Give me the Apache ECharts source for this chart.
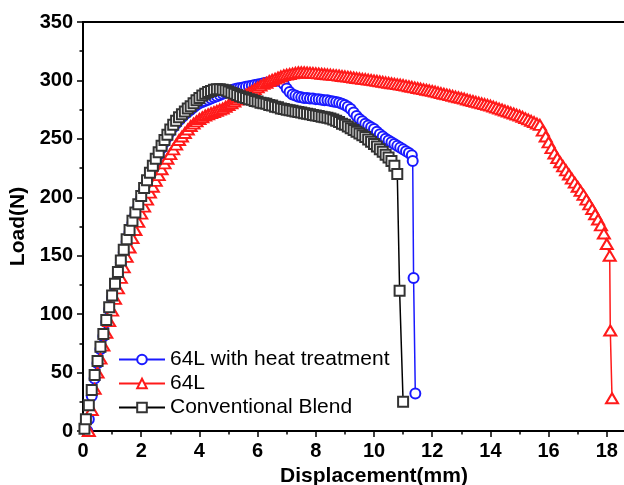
<!DOCTYPE html>
<html><head><meta charset="utf-8">
<script src="https://cdn.jsdelivr.net/npm/echarts@6/dist/echarts.min.js"></script>
<style>html,body{margin:0;padding:0;background:#fff}#c{width:624px;height:485px}</style>
</head><body><div id="c"></div>
<script>
const seriesNames = ['64L with heat treatment', '64L', 'Conventional Blend'];
const xAxisName = 'Displacement(mm)';
const yAxisName = 'Load(N)';

// 64L with heat treatment (blue circles)
const blueX = [0.15,0.2,0.3,0.4,0.5,0.6,0.7,0.8,0.9,
 1.0,1.1,1.2,1.3,1.4,1.5,1.6,1.7,1.8,1.9,
 2.0,2.1,2.2,2.3,2.4,2.5,2.6,2.7,2.8,2.9,
 3.0,3.1,3.2,3.3,3.4,3.5,3.6,3.7,3.8,3.9,
 4.0,4.1,4.2,4.3,4.4,4.5,4.6,4.7,4.8,4.9,
 5.0,5.1,5.2,5.3,5.4,5.5,5.6,5.7,5.8,5.9,
 6.0,6.1,6.2,6.3,6.4,6.5,6.6,6.7,6.8,6.9,
 7.0,7.1,7.2,7.3,7.4,7.5,7.6,7.7,7.8,7.9,
 8.0,8.1,8.2,8.3,8.4,8.5,8.6,8.7,8.8,8.9,
 9.0,9.1,9.2,9.3,9.4,9.5,9.6,9.7,9.8,9.9,
 10.0,10.1,10.2,10.3,10.4,10.5,10.6,10.7,10.8,10.9,
 11.0,11.1,11.2,11.3,11.33,11.36,11.42];
const blueY = [0,10,30,45,58,70,81,93,104,
 114,124,134,144,153,162,170,178,185,192,
 199,206,212.5,219,225,231,236.5,242,247,251.5,
 256,260,263,266,268.5,271,273,275,277,279,
 280.5,281.5,282.5,283.5,284.5,285.5,286.5,287.5,288.5,289.5,
 290.5,291.5,292.5,293,293.5,294,294.5,295,295.5,296,
 296.5,297,297.5,298,298.5,299,299.5,300,299.5,297,
 293,290,288,287,286,285.5,285,285,284.5,284.5,
 284,284,283.5,283,283,282.5,282,281.5,281,280,
 279,277.5,275.5,272.5,269.5,267,265,263,261.5,260,
 258.5,256,254,252,250,248.5,247,245.5,244,242.5,
 241,239.5,238,236,231,131,32];

// 64L (red triangles)
const redX = [0.2,0.3,0.4,0.5,0.6,0.7,0.8,0.9,
 1.0,1.1,1.2,1.3,1.4,1.5,1.6,1.7,1.8,1.9,
 2.0,2.1,2.2,2.3,2.4,2.5,2.6,2.7,2.8,2.9,
 3.0,3.1,3.2,3.3,3.4,3.5,3.6,3.7,3.8,3.9,
 4.0,4.1,4.2,4.3,4.4,4.5,4.6,4.7,4.8,4.9,
 5.0,5.1,5.2,5.3,5.4,5.5,5.6,5.7,5.8,5.9,
 6.0,6.1,6.2,6.3,6.4,6.5,6.6,6.7,6.8,6.9,
 7.0,7.1,7.2,7.3,7.4,7.5,7.6,7.7,7.8,7.9,
 8.0,8.1,8.2,8.3,8.4,8.5,8.6,8.7,8.8,8.9,
 9.0,9.1,9.2,9.3,9.4,9.5,9.6,9.7,9.8,9.9,
 10.0,10.1,10.2,10.3,10.4,10.5,10.6,10.7,10.8,10.9,
 11.0,11.1,11.2,11.3,11.4,11.5,11.6,11.7,11.8,11.9,
 12.0,12.1,12.2,12.3,12.4,12.5,12.6,12.7,12.8,12.9,
 13.0,13.1,13.2,13.3,13.4,13.5,13.6,13.7,13.8,13.9,
 14.0,14.1,14.2,14.3,14.4,14.5,14.6,14.7,14.8,14.9,
 15.0,15.1,15.2,15.3,15.4,15.5,15.6,15.7,15.8,15.9,
 16.0,16.1,16.2,16.3,16.4,16.5,16.6,16.7,16.8,16.9,
 17.0,17.1,17.2,17.3,17.4,17.5,17.6,17.7,17.8,17.9,
 18.0,18.1,18.12,18.18];
const redY = [0,18,36,50,62,73,84,94,
 103,113,122,131,140,149,157,165,172,179,
 186,192,198,204,209,214,219,224,229,233,
 237,241,245,249,252,255,258,261,263,265,
 267,268.5,270,271,272,273,274,275,276,277.5,
 279,280.5,282,283.5,285,286.5,288,289.5,291,292.5,
 294,295.5,297,298,299.5,300.5,301.5,302.5,303.5,304.5,
 305,305.5,306,306.5,307,307,307,306.8,306.6,306.4,
 306.2,306,305.7,305.5,305.2,305,304.7,304.5,304.2,303.8,
 303.5,303.2,302.8,302.5,302.1,301.8,301.4,301.1,300.7,300.4,
 300,299.6,299.2,298.8,298.4,298,297.6,297.2,296.8,296.4,
 296,295.5,295,294.5,294,293.5,293,292.5,292,291.5,
 291,290.4,289.8,289.2,288.6,288,287.4,286.8,286.2,285.6,
 285,284.4,283.7,283,282.4,281.7,281,280.4,279.7,279.1,
 278.5,277.6,276.8,275.9,275.1,274.2,273.4,272.5,271.7,270.8,
 270,268.9,267.7,266.6,265.4,264.3,263.1,262,257,252,
 247,242,237.5,233.5,230,226.5,223,219.5,216,212.5,
 209,205.5,202,198,194,190,185.5,181,176,169,
 160,150,86,28];

// Conventional Blend (black squares)
const blackX = [0.05,0.1,0.2,0.3,0.4,0.5,0.6,0.7,0.8,0.9,
 1.0,1.1,1.2,1.3,1.4,1.5,1.6,1.7,1.8,1.9,
 2.0,2.1,2.2,2.3,2.4,2.5,2.6,2.7,2.8,2.9,
 3.0,3.1,3.2,3.3,3.4,3.5,3.6,3.7,3.8,3.9,
 4.0,4.1,4.2,4.3,4.4,4.5,4.6,4.7,4.8,4.9,
 5.0,5.1,5.2,5.3,5.4,5.5,5.6,5.7,5.8,5.9,
 6.0,6.1,6.2,6.3,6.4,6.5,6.6,6.7,6.8,6.9,
 7.0,7.1,7.2,7.3,7.4,7.5,7.6,7.7,7.8,7.9,
 8.0,8.1,8.2,8.3,8.4,8.5,8.6,8.7,8.8,8.9,
 9.0,9.1,9.2,9.3,9.4,9.5,9.6,9.7,9.8,9.9,
 10.0,10.1,10.2,10.3,10.4,10.5,10.6,10.7,10.8,10.88,11.0];
const blackY = [2,10,22,35,48,60,72,83,95,106,
 116,126,136,146,155,164,172,180,187,194,
 201,208,214.5,221,227,233,238.5,244,249,253.5,
 258,262,265.5,268.5,271,273.5,276,278,280.5,283,
 285,287,288.5,290,291,292,292.5,292.5,292,291.5,
 290.5,289.5,288.5,287.5,286.5,285.5,285,284,283.5,282.5,
 282,281,280.5,280,279,278.5,277.5,277,276,275.5,
 275,274.5,274,273.5,273,272.5,272,271.5,271,270.5,
 270,269.5,269,268.5,268,267.5,266.5,265.5,264.5,263,
 262,260.5,259,257.5,256,254.5,253,251.5,249.5,247.5,
 245.5,243.5,241,239,236.5,234,231,227,220,120,25];

const zip = (xs, ys) => xs.map((x, i) => [x, ys[i]]);
const font = 'Liberation Sans, Arial, sans-serif';
const axisCommon = {
  axisLine: { show: true, onZero: false, lineStyle: { color: '#000', width: 2 } },
  axisTick: { show: true, inside: false, length: 6, lineStyle: { color: '#000', width: 1.5 } },
  minorTick: { show: true, splitNumber: 2, length: 3.5, lineStyle: { color: '#000', width: 1.5 } },
  splitLine: { show: false },
  nameLocation: 'middle',
  nameTextStyle: { fontFamily: font, fontWeight: 'bold', fontSize: 21, color: '#000' }
};

const chart = echarts.init(document.getElementById('c'), null, { renderer: 'canvas' });
chart.setOption({
  animation: false,
  backgroundColor: '#fff',
  grid: { left: 83, width: 582, top: 22, height: 409, containLabel: false, outerBoundsMode: 'none',
    show: true, borderColor: '#000', borderWidth: 2, backgroundColor: 'transparent' },
  xAxis: Object.assign({}, axisCommon, {
    type: 'value', min: 0, max: 20, interval: 2,
    name: xAxisName, nameGap: 25,
    axisLabel: { margin: 10, fontFamily: font, fontWeight: 'bold', fontSize: 20, color: '#000',
      formatter: v => (v > 18 ? '' : String(v)) }
  }),
  yAxis: Object.assign({}, axisCommon, {
    type: 'value', min: 0, max: 350, interval: 50,
    name: yAxisName, nameGap: 52, nameRotate: 90,
    axisLabel: { margin: 10, fontFamily: font, fontWeight: 'bold', fontSize: 20, color: '#000' }
  }),
  legend: {
    orient: 'vertical', left: 113, top: 344, itemWidth: 46, itemHeight: 12, itemGap: 3,
    textStyle: { fontFamily: font, fontSize: 21, color: '#000' },
    data: seriesNames
  },
  series: [
    { name: seriesNames[0], type: 'line', data: zip(blueX, blueY), symbol: 'emptyCircle', symbolSize: 10,
      color: '#1a1aff', lineStyle: { width: 1.5, color: '#1a1aff' }, itemStyle: { color: '#1a1aff', borderWidth: 1.2 } },
    { name: seriesNames[1], type: 'line', data: zip(redX, redY), symbol: 'emptyTriangle', symbolSize: [12, 10],
      color: '#ff1a1a', lineStyle: { width: 1.5, color: '#ff1a1a' }, itemStyle: { color: '#ff1a1a', borderWidth: 1.2 } },
    { name: seriesNames[2], type: 'line', data: zip(blackX, blackY), symbol: 'emptyRect', symbolSize: 10,
      color: '#222', lineStyle: { width: 1.5, color: '#000' }, itemStyle: { color: '#333', borderWidth: 1.2 } }
  ]
});
</script></body></html>
